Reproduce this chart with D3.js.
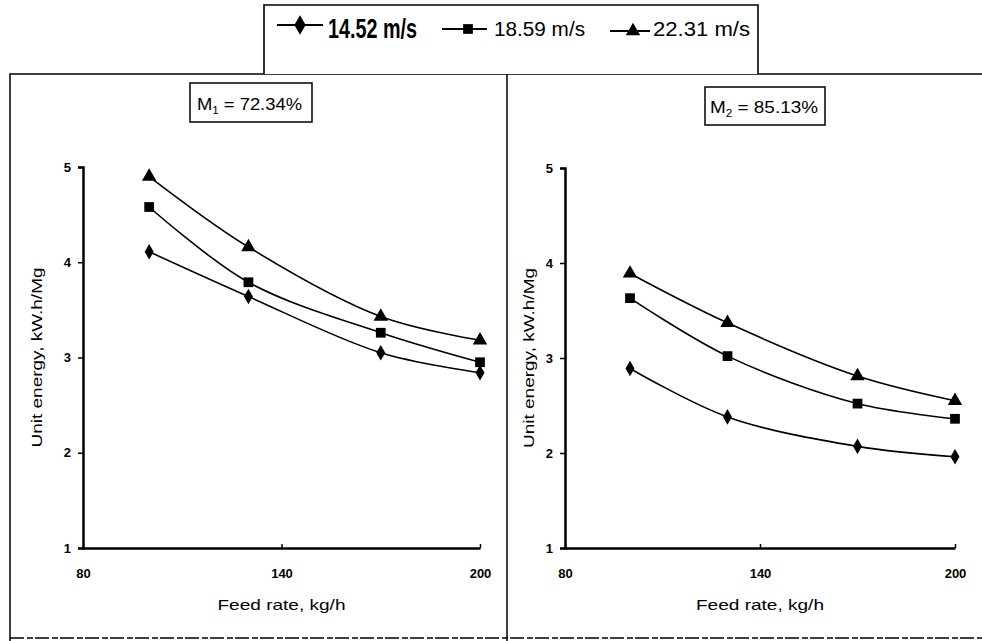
<!doctype html>
<html>
<head>
<meta charset="utf-8" />
<title>Unit energy vs feed rate</title>
<script src="https://cdn.jsdelivr.net/npm/d3@7/dist/d3.min.js"></script>
<style>
  body { margin: 0; background: #fff; }
  svg { display: block; font-family: "Liberation Sans", Arial, sans-serif; }
  .axis path, .axis line { stroke: #000; }
  .axis text { fill: #000; font-weight: bold; font-size: 13px; }
</style>
</head>
<body>
<div id="chart"></div>
<script>
// feed rate, kg/h
var feedRate = [100, 130, 170, 200];
var speedLabels = ['14.52 m/s', '18.59 m/s', '22.31 m/s'];
var moistLabels = ['72.34%', '85.13%'];
var xTicks = [80, 140, 200];
var yTicks = [1, 2, 3, 4, 5];

// unit energy, kW.h/Mg   (M1 = 72.34%)
var m1s1452 = [4.11, 3.64, 3.05, 2.84];
var m1s1859 = [4.58, 3.79, 3.26, 2.95];
var m1s2231 = [4.90, 4.16, 3.43, 3.18];
// (M2 = 85.13%)
var m2s1452 = [2.89, 2.38, 2.07, 1.96];
var m2s1859 = [3.63, 3.02, 2.52, 2.36];
var m2s2231 = [3.89, 3.37, 2.81, 2.55];

var W = 982, H = 641;
var svg = d3.select('#chart').append('svg')
    .attr('width', W).attr('height', H);

var shapes = [d3.symbolDiamond, d3.symbolSquare, d3.symbolTriangle];
var shapeSize = [70, 95, 90];

// frame
svg.append('path')
    .attr('d', 'M10,641 L10,74 L982,74 M507,74 L507,641')
    .attr('fill', 'none').attr('stroke', '#000').attr('stroke-width', 1.5);
svg.append('line')
    .attr('x1', 10).attr('x2', 982).attr('y1', 638).attr('y2', 638)
    .attr('stroke', '#000').attr('stroke-width', 1.5)
    .attr('stroke-dasharray', '14 3 6 2');
// legend box
svg.append('path')
    .attr('d', 'M264,74 L264,5 L758,5 L758,74')
    .attr('fill', '#fff').attr('stroke', '#000').attr('stroke-width', 1.6);

// legend
var legendItems = [
    {x1: 277, x2: 323, mx: 300, tx: 328, tw: 89, fs: 27, ty: 38, ly: 25},
    {x1: 442, x2: 487, mx: 468, tx: 494, tw: 91, fs: 20, ty: 36, ly: 29},
    {x1: 610, x2: 650, mx: 633, tx: 653, tw: 97, fs: 20, ty: 36, ly: 31}
];
legendItems.forEach(function (d, i) {
    var g = svg.append('g');
    g.append('line').attr('x1', d.x1).attr('x2', d.x2)
        .attr('y1', d.ly).attr('y2', d.ly)
        .attr('stroke', '#000').attr('stroke-width', 1.8);
    g.append('path')
        .attr('d', d3.symbol().type(shapes[i]).size(i === 0 ? 110 : shapeSize[i])())
        .attr('transform', 'translate(' + d.mx + ',' + d.ly + ')')
        .attr('fill', '#000');
    g.append('text')
        .attr('x', d.tx).attr('y', d.ty)
        .attr('font-size', d.fs)
        .attr('textLength', d.tw)
        .attr('lengthAdjust', 'spacingAndGlyphs')
        .style('font-weight', i === 0 ? 'bold' : 'normal')
        .text(speedLabels[i]);
});

var panels = [
    {left: 83, right: 480, top: 167, bottom: 548, series: [m1s1452, m1s1859, m1s2231],
     box: [190, 83, 122, 39], textX: 197, textY: 110, textW: 105, sub: '1', ylx: 42},
    {left: 565, right: 955, top: 168, bottom: 548, series: [m2s1452, m2s1859, m2s2231],
     box: [705, 87, 120, 38], textX: 710, textY: 113, textW: 108, sub: '2', ylx: 534}
];

panels.forEach(function (p, pi) {
    var x = d3.scaleLinear().domain([80, 200]).range([p.left, p.right]);
    var y = d3.scaleLinear().domain([1, 5]).range([p.bottom, p.top]);
    var g = svg.append('g');

    // y axis
    var ya = g.append('g').attr('class', 'axis')
        .attr('transform', 'translate(' + p.left + ',0)')
        .call(d3.axisLeft(y).tickValues(yTicks).tickSize(5).tickSizeOuter(5).tickPadding(7)
            .tickFormat(d3.format('d')));
    ya.select('.domain').attr('stroke-width', 2.5);
    ya.selectAll('.tick line').attr('stroke-width', 1.5);

    // x axis
    var xa = g.append('g').attr('class', 'axis')
        .attr('transform', 'translate(0,' + p.bottom + ')')
        .call(d3.axisBottom(x).tickValues(xTicks).tickSizeInner(-4).tickSizeOuter(0).tickPadding(21));
    xa.select('.domain').attr('stroke-width', 2.5);
    xa.selectAll('.tick line').attr('stroke-width', 1.5);
    xa.selectAll('.tick text').attr('font-size', 14);

    // axis titles
    g.append('text')
        .attr('x', (p.left + p.right) / 2).attr('y', 610)
        .attr('text-anchor', 'middle').attr('font-size', 15)
        .attr('textLength', 128).attr('lengthAdjust', 'spacingAndGlyphs')
        .text('Feed rate, kg/h');
    g.append('text')
        .attr('transform', 'translate(' + p.ylx + ',' + ((p.top + p.bottom) / 2) + ') rotate(-90)')
        .attr('text-anchor', 'middle').attr('font-size', 15)
        .attr('textLength', 180).attr('lengthAdjust', 'spacingAndGlyphs')
        .text('Unit energy, kW.h/Mg');

    // moisture box
    g.append('rect')
        .attr('x', p.box[0]).attr('y', p.box[1])
        .attr('width', p.box[2]).attr('height', p.box[3])
        .attr('fill', '#fff').attr('stroke', '#000').attr('stroke-width', 1.5);
    var t = g.append('text')
        .attr('x', p.textX).attr('y', p.textY)
        .attr('font-size', 16)
        .attr('textLength', p.textW).attr('lengthAdjust', 'spacingAndGlyphs');
    t.append('tspan').text('M');
    t.append('tspan').attr('font-size', 10).attr('dy', 4).text(p.sub);
    t.append('tspan').attr('dy', -4).text(' = ' + moistLabels[pi]);

    // series
    var line = d3.line()
        .x(function (d, i) { return x(feedRate[i]); })
        .y(function (d) { return y(d); })
        .curve(d3.curveCatmullRom.alpha(0.5));
    p.series.forEach(function (vals, si) {
        g.append('path').datum(vals)
            .attr('d', line)
            .attr('fill', 'none').attr('stroke', '#000').attr('stroke-width', 1.6);
        g.selectAll('.m' + si).data(vals).enter().append('path')
            .attr('class', 'm' + si)
            .attr('d', d3.symbol().type(shapes[si]).size(shapeSize[si])())
            .attr('transform', function (d, i) {
                return 'translate(' + x(feedRate[i]) + ',' + y(d) + ')';
            })
            .attr('fill', '#000');
    });
});
</script>
</body>
</html>
